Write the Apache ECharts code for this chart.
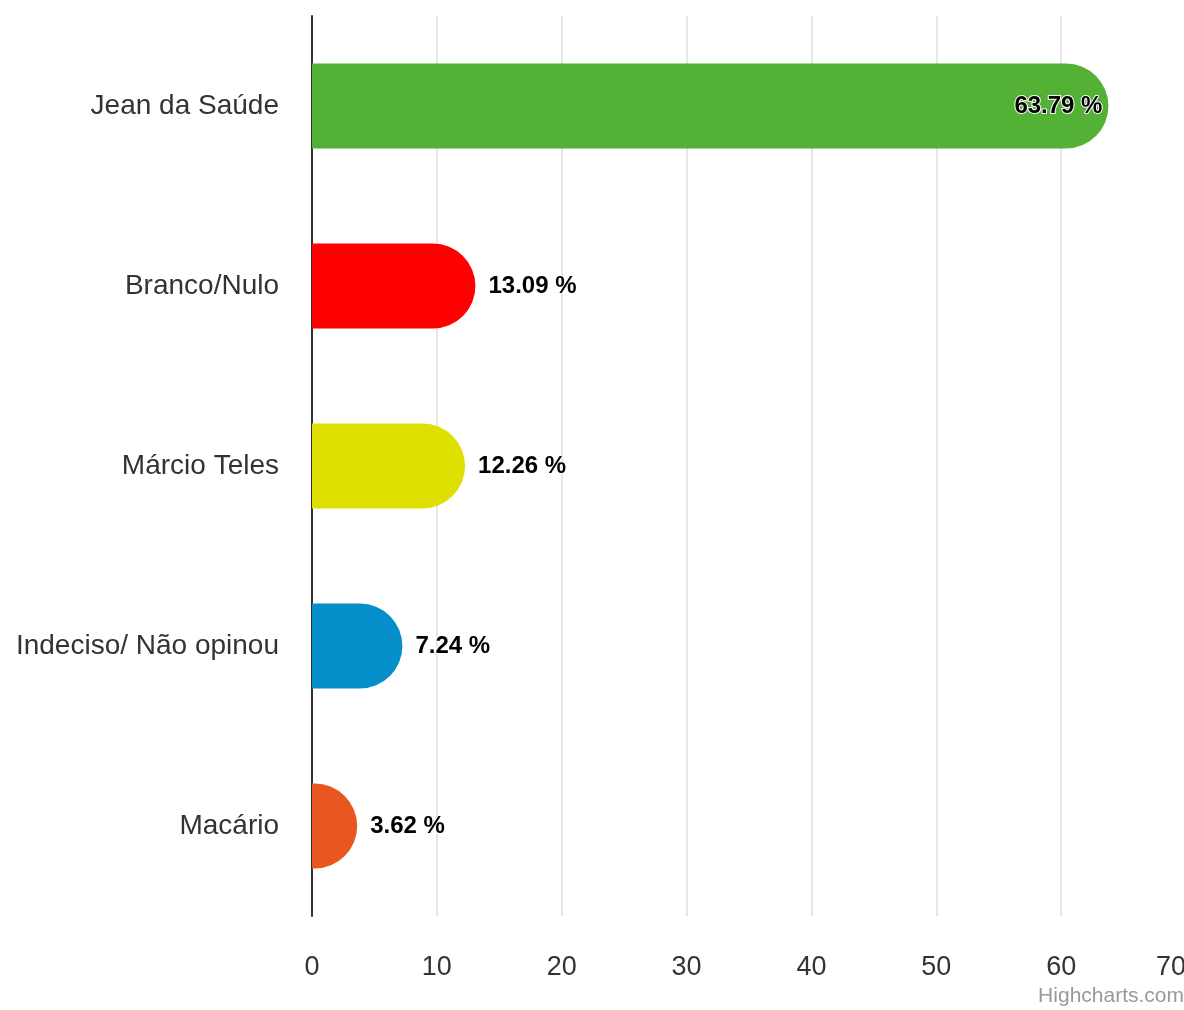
<!DOCTYPE html>
<html>
<head>
<meta charset="utf-8">
<style>html,body{margin:0;padding:0;background:#fff;}#chart{width:1184px;height:1010px;}</style>
<script src="https://cdn.jsdelivr.net/npm/echarts@6/dist/echarts.min.js"></script>
</head>
<body>
<div id="chart"></div>
<script>
var categories = ['Jean da Saúde', 'Branco/Nulo', 'Márcio Teles', 'Indeciso/ Não opinou', 'Macário'];
var values = [63.79, 13.09, 12.26, 7.24, 3.62];
var colors = ['#53b135', '#ff0000', '#dde000', '#048fca', '#ea561f'];
var xTicks = [0, 10, 20, 30, 40, 50, 60, 70];

var chart = echarts.init(document.getElementById('chart'));
chart.setOption({
  animation: false,
  grid: { left: 312, top: 16, width: 874, height: 900, containLabel: false, outerBoundsMode: 'none' },
  xAxis: {
    type: 'value', min: xTicks[0], max: xTicks[xTicks.length - 1], interval: 10,
    axisLine: { show: false }, axisTick: { show: false },
    splitLine: { show: true, lineStyle: { color: '#e6e6e6', width: 2 } },
    axisLabel: { fontSize: 27, color: '#333', margin: 38, alignMaxLabel: 'right', fontFamily: 'Liberation Sans, Arial' }
  },
  yAxis: {
    type: 'category', data: categories, inverse: true,
    axisLine: { show: true, lineStyle: { color: '#333', width: 2 } },
    axisTick: { show: false },
    axisLabel: { fontSize: 28, color: '#333', margin: 33, fontFamily: 'Liberation Sans, Arial' }
  },
  series: [{
    type: 'bar',
    barWidth: 85,
    data: values.map(function (v, i) {
      var d = { value: v, itemStyle: { color: colors[i], borderRadius: [0, 43, 43, 0] } };
      if (i === 0) d.label = { position: 'insideRight', distance: 6 };
      return d;
    }),
    label: {
      show: true, position: 'right', distance: 13,
      formatter: function (p) { return p.value.toFixed(2) + ' %'; },
      fontSize: 24, fontWeight: 'bold', color: '#000',
      textBorderColor: '#fff', textBorderWidth: 2,
      fontFamily: 'Liberation Sans, Arial'
    }
  }],
  graphic: [{
    type: 'text', right: 0, top: 986,
    style: { text: 'Highcharts.com', fontSize: 21, fill: '#999', fontFamily: 'Liberation Sans, Arial' }
  }]
});
</script>
</body>
</html>
